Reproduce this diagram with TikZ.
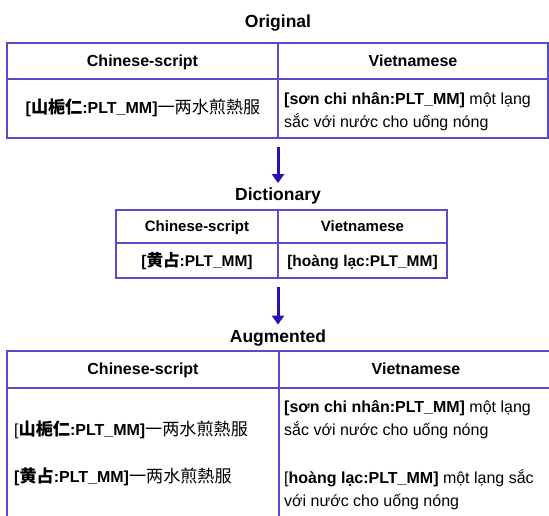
\documentclass[tikz,border=0pt]{standalone}
\usepackage{fontspec}
\setmainfont{Liberation Sans}
\newfontfamily\cjkfont[Scale=1.07]{Noto Sans CJK SC}
\newcommand\zh[1]{{\cjkfont #1}}
\usetikzlibrary{arrows.meta}
\definecolor{tblline}{RGB}{88,76,204}
\definecolor{arrcol}{RGB}{36,18,178}
\begin{document}
\begin{tikzpicture}[x=1pt,y=-1pt,
  tbl/.style={draw=tblline,line width=1.4pt},
  arr/.style={draw=arrcol,line width=3pt,-{Triangle[width=12pt,length=9pt]}},
  ttl/.style={font=\fontsize{17.5}{20}\selectfont\bfseries,inner sep=0pt,anchor=base},
  hd/.style={font=\fontsize{16}{20}\selectfont\bfseries,inner sep=0pt,anchor=base},
  hdsm/.style={font=\fontsize{15}{18}\selectfont\bfseries,inner sep=0pt,anchor=base},
  bd/.style={font=\fontsize{16}{20}\selectfont,inner sep=0pt},
  bdsm/.style={font=\fontsize{15.5}{18}\selectfont\bfseries,inner sep=0pt,anchor=base}]
\useasboundingbox (0,0) rectangle (549,515);
\clip (0,0) rectangle (549,515);
% ---------- Original ----------
\node[ttl] (t1) at (278,27) {Original};
\draw[tbl] (7,43) rectangle (548,138);
\draw[tbl] (7,79) -- (548,79);
\draw[tbl] (278,43) -- (278,138);
\coordinate (T1b) at (278,138);
\node[hd] (h1a) at (142.5,66) {Chinese-script};
\node[hd] (h1b) at (413,66) {Vietnamese};
\node[bd,anchor=base] (ozh) at (143,113) {\textbf{[\zh{山梔仁}:PLT\_MM]}\zh{一两水煎熱服}};
\node[bd,anchor=base west] (ovi1) at (284,104) {\textbf{[sơn chi nhân:PLT\_MM]} một lạng};
\node[bd,anchor=base west] (ovi2) at (284,127) {sắc với nước cho uống nóng};
% ---------- Dictionary ----------
\node[ttl] (t2) at (278,200) {Dictionary};
\draw[tbl] (116,210) rectangle (447,278);
\draw[tbl] (116,243) -- (447,243);
\draw[tbl] (278,210) -- (278,278);
\coordinate (T2b) at (278,278);
\node[hdsm] (h2a) at (197,231) {Chinese-script};
\node[hdsm] (h2b) at (362.5,231) {Vietnamese};
\node[bdsm] (dzh) at (197,266) {[\zh{黄占}:PLT\_MM]};
\node[bdsm] (dvi) at (362.5,266) {[hoàng lạc:PLT\_MM]};
% ---------- Augmented ----------
\node[ttl] (t3) at (278,342) {Augmented};
\draw[tbl] (7,351) rectangle (553,530);
\draw[tbl] (7,388) -- (553,388);
\draw[tbl] (279,351) -- (279,530);
\node[hd] (h3a) at (143,374) {Chinese-script};
\node[hd] (h3b) at (416,374) {Vietnamese};
\node[bd,anchor=base west] (azh1) at (14,435) {[\textbf{\zh{山梔仁}:PLT\_MM]}\zh{一两水煎熱服}};
\node[bd,anchor=base west] (azh2) at (14,482) {\textbf{[\zh{黄占}:PLT\_MM]}\zh{一两水煎熱服}};
\node[bd,anchor=base west] (avi1) at (284,412) {\textbf{[sơn chi nhân:PLT\_MM]} một lạng};
\node[bd,anchor=base west] (avi2) at (284,435) {sắc với nước cho uống nóng};
\node[bd,anchor=base west] (avi3) at (284,483) {[\textbf{hoàng lạc:PLT\_MM]} một lạng sắc};
\node[bd,anchor=base west] (avi4) at (284,506) {với nước cho uống nóng};
% ---------- arrows ----------
\draw[arr,shorten <=9pt,shorten >=4pt] (T1b) -- (t2);
\draw[arr,shorten <=9pt,shorten >=4.5pt] (T2b) -- (t3);
\end{tikzpicture}
\end{document}
